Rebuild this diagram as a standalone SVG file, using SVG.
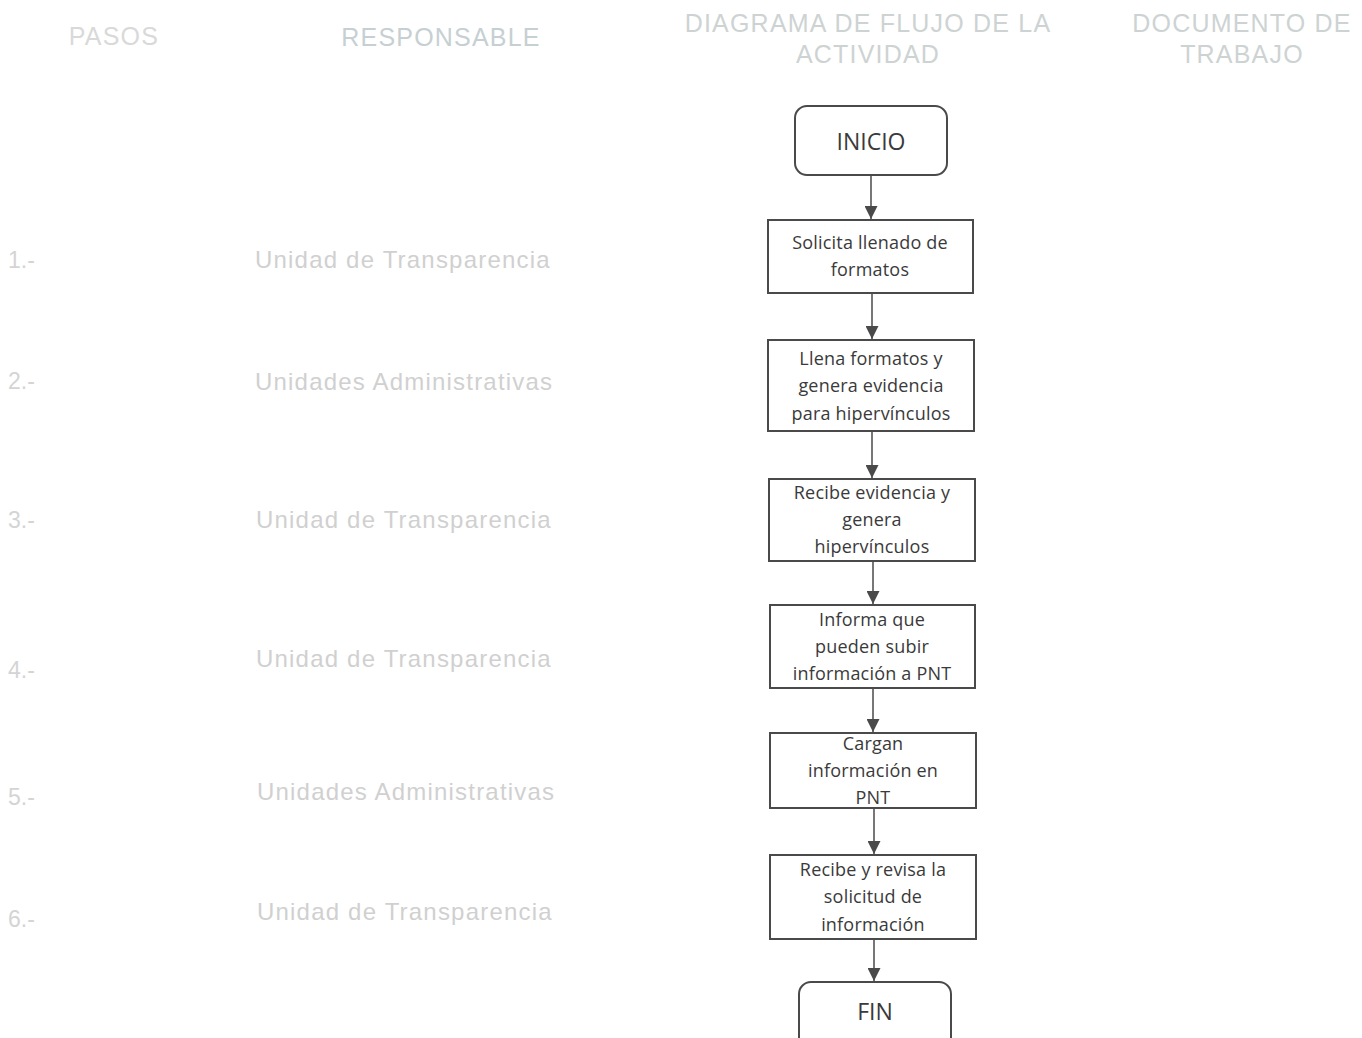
<svg xmlns="http://www.w3.org/2000/svg" width="1362" height="1038" viewBox="0 0 1362 1038">
<defs>
<style>
.hdr{font-family:"Liberation Sans",Arial,sans-serif;font-size:25px;fill:#cdd3d3;text-anchor:middle;letter-spacing:1.2px}
.step{font-family:"Liberation Sans",Arial,sans-serif;font-size:23px;fill:#d4d4d4}
.resp{font-family:"Liberation Sans",Arial,sans-serif;font-size:24px;fill:#d0d0d0;letter-spacing:1.2px}
.box{fill:#fff;stroke:#4a4a4a;stroke-width:2}
.lbl{font-family:"Open Sans","Noto Sans",sans-serif;font-size:18px;fill:#3a3a3a;text-anchor:middle;letter-spacing:0.2px}
.term{font-family:"Open Sans","Noto Sans",sans-serif;font-size:23px;fill:#3a3a3a;text-anchor:middle}
.con{stroke:#555;stroke-width:1.6;fill:none;marker-end:url(#ah)}
</style>
<marker id="ah" viewBox="0 0 10 10" refX="10" refY="5" markerWidth="13" markerHeight="13" markerUnits="userSpaceOnUse" orient="auto">
<path d="M0,0 L10,5 L0,10 z" fill="#4a4a4a"/>
</marker>
</defs>
<rect width="1362" height="1038" fill="#fff"/>
<g id="headers">
<text class="hdr" x="114" y="45" style="fill:#d9d9d9">PASOS</text>
<text class="hdr" x="441" y="46" style="fill:#c6d0d3">RESPONSABLE</text>
<text class="hdr" x="868" y="32">DIAGRAMA DE FLUJO DE LA</text>
<text class="hdr" x="868" y="63">ACTIVIDAD</text>
<text class="hdr" x="1242" y="32">DOCUMENTO DE</text>
<text class="hdr" x="1242" y="63">TRABAJO</text>
</g>
<g id="steps">
<text class="step" x="8" y="268">1.-</text>
<text class="step" x="8" y="389">2.-</text>
<text class="step" x="8" y="528">3.-</text>
<text class="step" x="8" y="678">4.-</text>
<text class="step" x="8" y="805">5.-</text>
<text class="step" x="8" y="927">6.-</text>
</g>
<g id="responsables">
<text class="resp" x="255" y="268">Unidad de Transparencia</text>
<text class="resp" x="255" y="390">Unidades Administrativas</text>
<text class="resp" x="256" y="528">Unidad de Transparencia</text>
<text class="resp" x="256" y="667">Unidad de Transparencia</text>
<text class="resp" x="257" y="800">Unidades Administrativas</text>
<text class="resp" x="257" y="920">Unidad de Transparencia</text>
</g>
<g id="connectors">
<line class="con" x1="871" y1="175" x2="871" y2="219"/>
<line class="con" x1="872" y1="293" x2="872" y2="339"/>
<line class="con" x1="872" y1="431" x2="872" y2="478"/>
<line class="con" x1="873" y1="561" x2="873" y2="604"/>
<line class="con" x1="873" y1="688" x2="873" y2="732"/>
<line class="con" x1="874" y1="808" x2="874" y2="854"/>
<line class="con" x1="874" y1="939" x2="874" y2="981"/>
</g>
<g id="inicio">
<rect class="box" x="795" y="106" width="152" height="69" rx="12"/>
<text class="term" x="871" y="150">INICIO</text>
</g>
<g id="n1">
<rect class="box" x="768" y="220" width="205" height="73"/>
<text class="lbl" x="870" y="249">Solicita llenado de</text>
<text class="lbl" x="870" y="276">formatos</text>
</g>
<g id="n2">
<rect class="box" x="768" y="340" width="206" height="91"/>
<text class="lbl" x="871" y="365">Llena formatos y</text>
<text class="lbl" x="871" y="392">genera evidencia</text>
<text class="lbl" x="871" y="420">para hipervínculos</text>
</g>
<g id="n3">
<rect class="box" x="769" y="479" width="206" height="82"/>
<text class="lbl" x="872" y="499">Recibe evidencia y</text>
<text class="lbl" x="872" y="526">genera</text>
<text class="lbl" x="872" y="553">hipervínculos</text>
</g>
<g id="n4">
<rect class="box" x="770" y="605" width="205" height="83"/>
<text class="lbl" x="872" y="626">Informa que</text>
<text class="lbl" x="872" y="653">pueden subir</text>
<text class="lbl" x="872" y="680">información a PNT</text>
</g>
<g id="n5">
<rect class="box" x="770" y="733" width="206" height="75"/>
<text class="lbl" x="873" y="750">Cargan</text>
<text class="lbl" x="873" y="777">información en</text>
<text class="lbl" x="873" y="804">PNT</text>
</g>
<g id="n6">
<rect class="box" x="770" y="855" width="206" height="84"/>
<text class="lbl" x="873" y="876">Recibe y revisa la</text>
<text class="lbl" x="873" y="903">solicitud de</text>
<text class="lbl" x="873" y="931">información</text>
</g>
<g id="fin">
<rect class="box" x="799" y="982" width="152" height="70" rx="12"/>
<text class="term" x="875" y="1020">FIN</text>
</g>
</svg>
